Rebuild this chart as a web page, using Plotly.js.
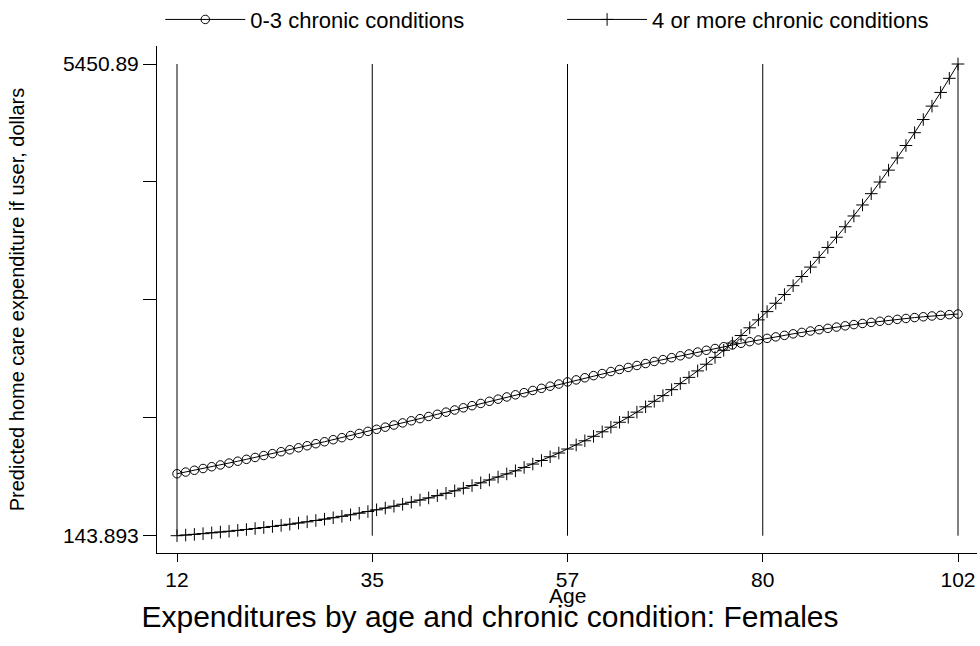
<!DOCTYPE html>
<html>
<head>
<meta charset="utf-8">
<script src="https://cdn.plot.ly/plotly-3.0.1.min.js"></script>
<style>
  html, body { margin: 0; padding: 0; background: #fff; }
  #chart { width: 980px; height: 646px; }
</style>
</head>
<body>
<div id="chart"></div>
<script>
// Age in years (x values shared by both series)
const ages = [
  12, 13, 14, 15, 16, 17, 18, 19, 20, 21,
  22, 23, 24, 25, 26, 27, 28, 29, 30, 31,
  32, 33, 34, 35, 36, 37, 38, 39, 40, 41,
  42, 43, 44, 45, 46, 47, 48, 49, 50, 51,
  52, 53, 54, 55, 56, 57, 58, 59, 60, 61,
  62, 63, 64, 65, 66, 67, 68, 69, 70, 71,
  72, 73, 74, 75, 76, 77, 78, 79, 80, 81,
  82, 83, 84, 85, 86, 87, 88, 89, 90, 91,
  92, 93, 94, 95, 96, 97, 98, 99, 100, 101,
  102
];

// Predicted home care expenditure, 0-3 chronic conditions
const lowChronic = [
  841, 860, 880, 900, 920, 940, 961, 982, 1003, 1024,
  1046, 1067, 1089, 1111, 1133, 1156, 1179, 1201, 1224, 1247,
  1271, 1294, 1318, 1341, 1365, 1389, 1413, 1437, 1461, 1485,
  1510, 1534, 1558, 1583, 1607, 1632, 1656, 1680, 1705, 1729,
  1753, 1778, 1802, 1826, 1850, 1874, 1897, 1921, 1945, 1968,
  1991, 2014, 2037, 2059, 2081, 2104, 2125, 2147, 2168, 2189,
  2210, 2230, 2250, 2270, 2290, 2309, 2327, 2346, 2364, 2381,
  2398, 2415, 2431, 2447, 2462, 2477, 2491, 2505, 2519, 2532,
  2544, 2556, 2567, 2578, 2588, 2598, 2607, 2616, 2624, 2631,
  2638
];

// Predicted home care expenditure, 4 or more chronic conditions
const highChronic = [
  143.893, 151, 159, 167, 176, 185, 194, 204, 214, 225,
  236, 248, 260, 273, 286, 300, 315, 330, 346, 362,
  379, 397, 416, 435, 455, 476, 498, 521, 545, 569,
  595, 621, 649, 678, 708, 739, 771, 804, 839, 874,
  912, 950, 990, 1032, 1074, 1119, 1165, 1212, 1262, 1313,
  1365, 1420, 1476, 1534, 1594, 1656, 1720, 1787, 1855, 1925,
  1998, 2073, 2150, 2230, 2311, 2396, 2483, 2572, 2665, 2759,
  2857, 2957, 3060, 3166, 3275, 3387, 3502, 3620, 3741, 3865,
  3992, 4123, 4257, 4394, 4534, 4678, 4826, 4977, 5131, 5290,
  5450.89
];

const seriesNames = ['0-3 chronic conditions', '4 or more chronic conditions'];

// Axis ticks: x ticks sit at evenly spaced ages, labelled rounded
const xTickVals = [12, 34.5, 57, 79.5, 102];
const xTickText = ['12', '35', '57', '80', '102'];
const yTickVals = [143.893, 1470.642, 2797.391, 4124.141, 5450.89];
const yTickText = ['143.893', '', '', '', '5450.89'];

const FONT = 'Liberation Sans, Arial, Helvetica, sans-serif';
const INK = '#000';

const traces = [
  {
    x: ages, y: lowChronic, name: seriesNames[0], legend: 'legend',
    type: 'scatter', mode: 'lines+markers',
    line: { color: INK, width: 1 },
    marker: { symbol: 'circle-open', size: 8.5, color: INK, line: { width: 1, color: INK } }
  },
  {
    x: ages, y: highChronic, name: seriesNames[1], legend: 'legend2',
    type: 'scatter', mode: 'lines+markers',
    line: { color: INK, width: 1 },
    marker: { symbol: 'cross-thin-open', size: 9, color: INK, line: { width: 1, color: INK } }
  }
];

// Vertical reference lines at each x tick, spanning the labelled y extent
const yLo = yTickVals[0];
const yHi = yTickVals[yTickVals.length - 1];
const shapes = xTickVals.map(v => ({
  type: 'line', xref: 'x', yref: 'y',
  x0: v, x1: v, y0: yLo, y1: yHi,
  line: { color: INK, width: 1 },
  layer: 'below'
}));

// One legend box per series, laid side by side above the plot
const legendBase = {
  orientation: 'h', xanchor: 'left', y: 1.052, yanchor: 'middle',
  font: { family: FONT, size: 22, color: INK },
  itemwidth: 80,
  bgcolor: 'rgba(0,0,0,0)'
};

const layout = {
  width: 980, height: 646,
  paper_bgcolor: '#fff', plot_bgcolor: '#fff',
  margin: { l: 157, r: 3, t: 46, b: 93, autoexpand: false },
  font: { family: FONT, color: INK },
  showlegend: true,
  title: {
    text: 'Expenditures by age and chronic condition: Females',
    font: { family: FONT, size: 30, color: INK },
    xref: 'container', x: 0.5, xanchor: 'center',
    yref: 'container', y: 0.046, yanchor: 'middle'
  },
  xaxis: {
    range: [9.695, 104.19],
    tickmode: 'array', tickvals: xTickVals, ticktext: xTickText,
    ticks: 'outside', ticklen: 8, tickwidth: 1, tickcolor: INK,
    showline: true, linecolor: INK, linewidth: 1,
    showgrid: false, zeroline: false,
    tickfont: { family: FONT, size: 21, color: INK },
    automargin: false
  },
  yaxis: {
    range: [-50.7, 5653.4],
    tickmode: 'array', tickvals: yTickVals, ticktext: yTickText,
    ticks: 'outside', ticklen: 13, tickwidth: 1, tickcolor: INK,
    showline: true, linecolor: INK, linewidth: 1,
    showgrid: false, zeroline: false,
    tickfont: { family: FONT, size: 21, color: INK },
    title: { text: 'Predicted home care expenditure if user, dollars', font: { family: FONT, size: 20, color: INK }, standoff: 32 },
    automargin: false
  },
  annotations: [
    {
      text: 'Age', xref: 'paper', yref: 'paper', x: 0.5, y: -0.083,
      xanchor: 'center', yanchor: 'middle', showarrow: false,
      font: { family: FONT, size: 21, color: INK }
    }
  ],
  legend: Object.assign({}, legendBase, { x: 0.004 }),
  legend2: Object.assign({}, legendBase, { x: 0.494 }),
  shapes: shapes
};

Plotly.newPlot('chart', traces, layout, { staticPlot: true, displayModeBar: false });
</script>
</body>
</html>
